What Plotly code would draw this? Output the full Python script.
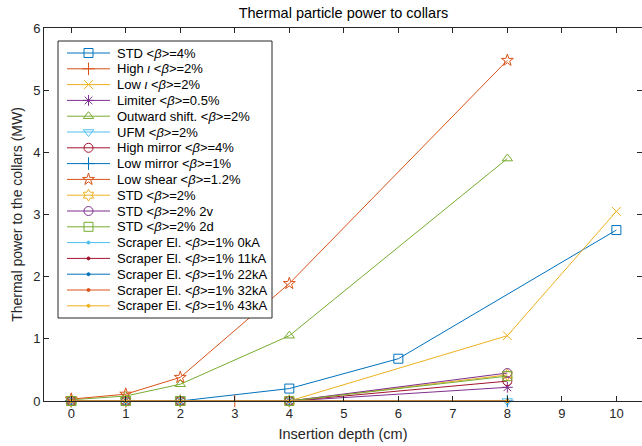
import plotly.graph_objects as go

# ---- data ----
x5 = [0, 1, 2, 4, 8]
std4_x = [0, 1, 2, 4, 6, 10]
std4_y = [0, 0, 0, 0.2, 0.68, 2.75]
highiota_x = [0, 1, 2, 3]
highiota_y = [0, 0, 0, 0]
lowiota_x = [0, 1, 2, 4, 8, 10]
lowiota_y = [0, 0, 0, 0, 1.05, 3.05]
limiter_y = [0, 0, 0, 0, 0.22]
outward_y = [0.02, 0.08, 0.27, 1.05, 3.9]
ufm_y = [0, 0, 0, 0, 0]
highmirror_y = [0, 0, 0, 0, 0.32]
lowmirror_y = [0, 0, 0, 0, 0]
lowshear_y = [0.03, 0.11, 0.38, 1.89, 5.48]
std2_y = [0, 0, 0, 0, 0.42]
std2v_y = [0, 0, 0, 0, 0.45]
std2d_y = [0, 0, 0, 0, 0.40]
scr0_y = [0, 0, 0, 0, 0]
scr11_y = [0, 0, 0, 0, 0]
scr22_y = [0, 0, 0, 0, 0]
scr32_y = [0, 0, 0, 0, 0]
scr43_y = [0, 0, 0, 0, 0]
x_ticks = list(range(0, 11))
y_ticks = list(range(0, 7))

B = "<i>β</i>"
series = [
    ("STD &lt;%s&gt;=4%%" % B, std4_x, std4_y, "#0072BD", "square-open"),
    ("High <i>ι</i> &lt;%s&gt;=2%%" % B, highiota_x, highiota_y, "#D95319", "cross-thin-open"),
    ("Low <i>ι</i> &lt;%s&gt;=2%%" % B, lowiota_x, lowiota_y, "#EDB120", "x-thin-open"),
    ("Limiter &lt;%s&gt;=0.5%%" % B, x5, limiter_y, "#7E2F8E", "asterisk-open"),
    ("Outward shift. &lt;%s&gt;=2%%" % B, x5, outward_y, "#77AC30", "triangle-up-open"),
    ("UFM &lt;%s&gt;=2%%" % B, x5, ufm_y, "#4DBEEE", "triangle-down-open"),
    ("High mirror &lt;%s&gt;=4%%" % B, x5, highmirror_y, "#A2142F", "circle-open"),
    ("Low mirror &lt;%s&gt;=1%%" % B, x5, lowmirror_y, "#0072BD", "cross-thin-open"),
    ("Low shear &lt;%s&gt;=1.2%%" % B, x5, lowshear_y, "#D95319", "star-open"),
    ("STD &lt;%s&gt;=2%%" % B, x5, std2_y, "#EDB120", "hexagram-open"),
    ("STD &lt;%s&gt;=2%% 2v" % B, x5, std2v_y, "#7E2F8E", "circle-open"),
    ("STD &lt;%s&gt;=2%% 2d" % B, x5, std2d_y, "#77AC30", "square-open"),
    ("Scraper El. &lt;%s&gt;=1%% 0kA" % B, x5, scr0_y, "#4DBEEE", "circle"),
    ("Scraper El. &lt;%s&gt;=1%% 11kA" % B, x5, scr11_y, "#A2142F", "circle"),
    ("Scraper El. &lt;%s&gt;=1%% 22kA" % B, x5, scr22_y, "#0072BD", "circle"),
    ("Scraper El. &lt;%s&gt;=1%% 32kA" % B, x5, scr32_y, "#D95319", "circle"),
    ("Scraper El. &lt;%s&gt;=1%% 43kA" % B, x5, scr43_y, "#EDB120", "circle"),
]

W, H = 642, 446
ML, MR, MT, MB = 44, 0, 28, 45
PW, PH = W - ML - MR, H - MT - MB

fig = go.Figure()
for name, xs, ys, col, sym in series:
    size = 3 if sym == "circle" else 9
    fig.add_trace(go.Scatter(
        x=xs, y=ys, name=name, mode="lines+markers", showlegend=False, cliponaxis=False,
        line=dict(color=col, width=1),
        marker=dict(symbol=sym, size=size, color=col, line=dict(color=col, width=1)),
    ))

# ---- hand-made legend on an overlay axis measured in pixels from plot top-left ----
axcol = "#262626"
box_l, box_r, box_t, box_b = 14, 228, 13, 290
row0, row_h = 25, 15.8
line_l, line_r, txt_x = 23, 66, 71
fig.add_trace(go.Scatter(
    x=[box_l, box_r, box_r, box_l, box_l], y=[box_t, box_t, box_b, box_b, box_t],
    xaxis="x2", yaxis="y2", mode="lines", fill="toself", fillcolor="white",
    line=dict(color=axcol, width=1), showlegend=False, hoverinfo="skip"))
for i, (name, xs, ys, col, sym) in enumerate(series):
    yy = row0 + i * row_h
    size = 3 if sym == "circle" else 9
    fig.add_trace(go.Scatter(
        x=[line_l, line_r], y=[yy, yy], xaxis="x2", yaxis="y2", mode="lines",
        line=dict(color=col, width=1), showlegend=False, hoverinfo="skip"))
    fig.add_trace(go.Scatter(
        x=[(line_l + line_r) / 2], y=[yy], xaxis="x2", yaxis="y2", mode="markers",
        marker=dict(symbol=sym, size=size, color=col, line=dict(color=col, width=1)),
        showlegend=False, hoverinfo="skip"))
    fig.add_annotation(x=txt_x, y=yy, xref="x2", yref="y2", text=name, showarrow=False,
                       xanchor="left", yanchor="middle", font=dict(size=13, color="black"))

fig.update_layout(
    width=W, height=H,
    margin=dict(l=ML, r=MR, t=MT, b=MB),
    paper_bgcolor="white", plot_bgcolor="white",
    font=dict(family="Liberation Sans, Arial, sans-serif", size=13, color=axcol),
    title=dict(text="Thermal particle power to collars", x=0.535, xanchor="center",
               y=1 - 13 / H, yanchor="middle", font=dict(size=14.5, color="black")),
    xaxis=dict(range=[-0.5, 10.47], tickvals=x_ticks, showgrid=False, automargin=False,
               zeroline=False, showline=True, linecolor=axcol, linewidth=1, mirror="ticks",
               ticks="inside", ticklen=5, tickcolor=axcol,
               title=dict(text="Insertion depth (cm)", standoff=9, font=dict(size=14.5))),
    yaxis=dict(range=[0, 6], tickvals=y_ticks, showgrid=False, automargin=False,
               zeroline=False, showline=True, linecolor=axcol, linewidth=1, mirror="ticks",
               ticks="inside", ticklen=5, tickcolor=axcol,
               title=dict(text="Thermal power to the collars (MW)", standoff=7, font=dict(size=14))),
    xaxis2=dict(range=[0, PW], overlaying="x", visible=False, fixedrange=True),
    yaxis2=dict(range=[PH, 0], overlaying="y", visible=False, fixedrange=True),
    showlegend=False,
)
fig.write_html("out.html", config={"displayModeBar": False},
               post_script="document.body.style.margin='0';document.body.style.overflow='hidden';")
